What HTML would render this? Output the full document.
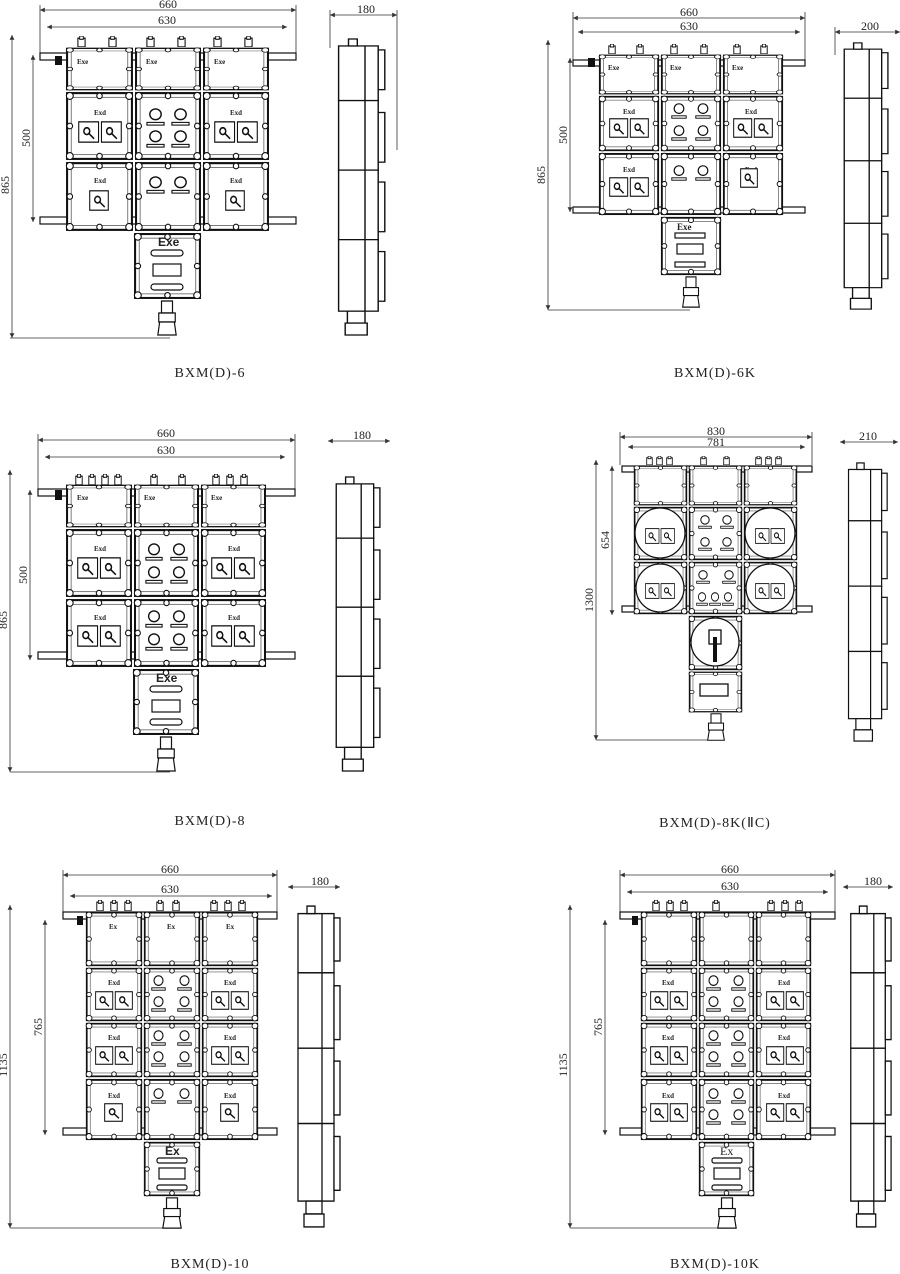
<!DOCTYPE html>
<html><head><meta charset="utf-8"><style>
html,body{margin:0;padding:0;background:#fff}
svg{display:block}
text{font-family:"Liberation Serif",serif;fill:#222}
.d{stroke:#333;stroke-width:0.8;fill:none}
.lb{font-size:14px;letter-spacing:1px}
.dm{font-size:12px;font-family:"Liberation Sans",sans-serif}
.sm{font-size:7px;font-family:"Liberation Sans",sans-serif;font-weight:bold}
</style></head><body>
<svg width="900" height="1274" viewBox="0 0 900 1274" xmlns="http://www.w3.org/2000/svg" xmlns:xlink="http://www.w3.org/1999/xlink">
<defs>
<symbol id="cell" viewBox="0 0 100 100" preserveAspectRatio="none">
<rect x="3" y="3" width="94" height="94" fill="#fff" stroke="#111" stroke-width="3"/>
<rect x="9" y="9" width="82" height="82" fill="none" stroke="#444" stroke-width="1"/>
<g fill="#fff" stroke="#111" stroke-width="1.6">
<circle cx="7" cy="7" r="5"/><circle cx="93" cy="7" r="5"/><circle cx="7" cy="93" r="5"/><circle cx="93" cy="93" r="5"/>
<circle cx="50" cy="7" r="4"/><circle cx="50" cy="93" r="4"/><circle cx="7" cy="50" r="4"/><circle cx="93" cy="50" r="4"/>
</g></symbol>
<symbol id="sw2" viewBox="0 0 60 26" preserveAspectRatio="none">
<g fill="#fff" stroke="#111" stroke-width="1.5"><rect x="1" y="1" width="27" height="24"/><rect x="32" y="1" width="27" height="24"/></g>
<g stroke="#111" stroke-width="2" fill="none"><circle cx="12" cy="12" r="4"/><line x1="14" y1="14" x2="22" y2="21"/><circle cx="43" cy="12" r="4"/><line x1="45" y1="14" x2="53" y2="21"/></g>
</symbol>
<symbol id="sw1" viewBox="0 0 28 26" preserveAspectRatio="none">
<rect x="1" y="1" width="26" height="24" fill="#fff" stroke="#111" stroke-width="1.5"/>
<g stroke="#111" stroke-width="2" fill="none"><circle cx="12" cy="12" r="4"/><line x1="14" y1="14" x2="22" y2="21"/></g>
</symbol>
<symbol id="lt" viewBox="0 0 20 20" preserveAspectRatio="none">
<circle cx="10" cy="7" r="6" fill="#fff" stroke="#111" stroke-width="1.5"/>
<rect x="1" y="16" width="18" height="3" fill="none" stroke="#111" stroke-width="1.2"/>
</symbol>
<symbol id="gl" viewBox="0 0 10 10" preserveAspectRatio="none">
<rect x="1" y="2" width="8" height="8" fill="#fff" stroke="#111" stroke-width="1.2"/><rect x="3" y="0" width="4" height="3" fill="#fff" stroke="#111"/>
</symbol>
<symbol id="side" viewBox="0 0 50 300" preserveAspectRatio="none">
<g fill="#fff" stroke="#111" stroke-width="1.3">
<rect x="6" y="8" width="36" height="55"/><rect x="6" y="63" width="36" height="70"/><rect x="6" y="133" width="36" height="70"/><rect x="6" y="203" width="36" height="72"/>
<rect x="42" y="12" width="6" height="40"/><rect x="42" y="75" width="6" height="50"/><rect x="42" y="145" width="6" height="50"/><rect x="42" y="215" width="6" height="50"/>
<rect x="15" y="1" width="8" height="7"/>
<rect x="14" y="275" width="16" height="12"/><rect x="12" y="287" width="20" height="12"/>
<line x1="30" y1="8" x2="30" y2="275"/>
</g></symbol>
<symbol id="foot" viewBox="0 0 24 36" preserveAspectRatio="none">
<g fill="#fff" stroke="#111" stroke-width="1.3"><rect x="6" y="1" width="12" height="12"/><rect x="3" y="13" width="18" height="9"/><path d="M4 22 L20 22 L22 35 L2 35 Z"/></g>
</symbol>
<marker id="ar" viewBox="0 0 6 6" refX="6" refY="3" markerWidth="6" markerHeight="6" orient="auto-start-reverse"><path d="M0 0L6 3L0 6z" fill="#333"/></marker>
</defs>

<g class="d" marker-start="url(#ar)" marker-end="url(#ar)">
<!-- P1 -->
<line x1="40" y1="10" x2="296" y2="10"/><line x1="47" y1="27" x2="287" y2="27"/>
<line x1="33" y1="55" x2="33" y2="222"/><line x1="12" y1="35" x2="12" y2="338"/>
<line x1="330" y1="15" x2="397" y2="15"/>
<!-- P2 -->
<line x1="573" y1="18" x2="805" y2="18"/><line x1="578" y1="32" x2="800" y2="32"/>
<line x1="570" y1="58" x2="570" y2="212"/><line x1="548" y1="40" x2="548" y2="310"/>
<line x1="835" y1="32" x2="900" y2="32"/>
<!-- P3 -->
<line x1="38" y1="440" x2="295" y2="440"/><line x1="45" y1="457" x2="285" y2="457"/>
<line x1="30" y1="490" x2="30" y2="660"/><line x1="10" y1="470" x2="10" y2="772"/>
<line x1="328" y1="441" x2="390" y2="441"/>
<!-- P4 -->
<line x1="620" y1="437" x2="812" y2="437"/><line x1="628" y1="447" x2="805" y2="447"/>
<line x1="612" y1="466" x2="612" y2="615"/><line x1="596" y1="460" x2="596" y2="740"/>
<line x1="840" y1="442" x2="898" y2="442"/>
<!-- P5 -->
<line x1="63" y1="875" x2="277" y2="875"/><line x1="70" y1="896" x2="272" y2="896"/>
<line x1="45" y1="920" x2="45" y2="1135"/><line x1="10" y1="905" x2="10" y2="1228"/>
<line x1="288" y1="887" x2="340" y2="887"/>
<!-- P6 -->
<line x1="620" y1="875" x2="835" y2="875"/><line x1="627" y1="892" x2="828" y2="892"/>
<line x1="605" y1="920" x2="605" y2="1135"/><line x1="570" y1="905" x2="570" y2="1228"/>
<line x1="843" y1="887" x2="893" y2="887"/>
</g>
<g class="d">
<line x1="40" y1="5" x2="40" y2="55"/><line x1="296" y1="5" x2="296" y2="55"/><line x1="330" y1="10" x2="330" y2="48"/><line x1="397" y1="10" x2="397" y2="150"/>
<line x1="573" y1="12" x2="573" y2="60"/><line x1="805" y1="12" x2="805" y2="60"/><line x1="835" y1="27" x2="835" y2="55"/><line x1="548" y1="310" x2="690" y2="310"/>
<line x1="38" y1="434" x2="38" y2="490"/><line x1="295" y1="434" x2="295" y2="490"/><line x1="10" y1="772" x2="170" y2="772"/><line x1="10" y1="338" x2="170" y2="338"/>
<line x1="596" y1="740" x2="720" y2="740"/><line x1="620" y1="432" x2="620" y2="465"/><line x1="812" y1="432" x2="812" y2="465"/>
<line x1="10" y1="1228" x2="175" y2="1228"/><line x1="570" y1="1228" x2="730" y2="1228"/><line x1="63" y1="870" x2="63" y2="918"/><line x1="277" y1="870" x2="277" y2="918"/><line x1="620" y1="870" x2="620" y2="918"/><line x1="835" y1="870" x2="835" y2="918"/>
</g>

<g class="dm">
<text x="168" y="8" text-anchor="middle">660</text><text x="167" y="24" text-anchor="middle">630</text>
<text x="30" y="138" transform="rotate(-90 30 138)" text-anchor="middle">500</text>
<text x="9" y="185" transform="rotate(-90 9 185)" text-anchor="middle">865</text>
<text x="366" y="13" text-anchor="middle">180</text>
<text x="689" y="16" text-anchor="middle">660</text><text x="689" y="30" text-anchor="middle">630</text>
<text x="567" y="135" transform="rotate(-90 567 135)" text-anchor="middle">500</text>
<text x="545" y="175" transform="rotate(-90 545 175)" text-anchor="middle">865</text>
<text x="870" y="30" text-anchor="middle">200</text>
<text x="166" y="437" text-anchor="middle">660</text><text x="166" y="454" text-anchor="middle">630</text>
<text x="27" y="575" transform="rotate(-90 27 575)" text-anchor="middle">500</text>
<text x="7" y="620" transform="rotate(-90 7 620)" text-anchor="middle">865</text>
<text x="362" y="439" text-anchor="middle">180</text>
<text x="716" y="435" text-anchor="middle">830</text><text x="716" y="446" text-anchor="middle">781</text>
<text x="609" y="540" transform="rotate(-90 609 540)" text-anchor="middle">654</text>
<text x="593" y="600" transform="rotate(-90 593 600)" text-anchor="middle">1300</text>
<text x="868" y="440" text-anchor="middle">210</text>
<text x="170" y="873" text-anchor="middle">660</text><text x="170" y="893" text-anchor="middle">630</text>
<text x="42" y="1027" transform="rotate(-90 42 1027)" text-anchor="middle">765</text>
<text x="7" y="1065" transform="rotate(-90 7 1065)" text-anchor="middle">1135</text>
<text x="320" y="885" text-anchor="middle">180</text>
<text x="730" y="873" text-anchor="middle">660</text><text x="730" y="890" text-anchor="middle">630</text>
<text x="602" y="1027" transform="rotate(-90 602 1027)" text-anchor="middle">765</text>
<text x="567" y="1065" transform="rotate(-90 567 1065)" text-anchor="middle">1135</text>
<text x="873" y="885" text-anchor="middle">180</text>
</g>

<!-- ===== P1 ===== -->
<g stroke="#111" fill="#fff" stroke-width="1.2">
<rect x="40" y="53" width="256" height="7"/><rect x="40" y="217" width="256" height="7"/>
</g>
<use href="#gl" x="77" y="36" width="9" height="11"/><use href="#gl" x="108" y="36" width="9" height="11"/><use href="#gl" x="146" y="36" width="9" height="11"/><use href="#gl" x="177" y="36" width="9" height="11"/><use href="#gl" x="213" y="36" width="9" height="11"/><use href="#gl" x="244" y="36" width="9" height="11"/>
<use href="#cell" x="65" y="47" width="69" height="44"/><use href="#cell" x="134" y="47" width="68" height="44"/><use href="#cell" x="202" y="47" width="68" height="44"/>
<use href="#cell" x="65" y="91" width="69" height="70"/><use href="#cell" x="134" y="91" width="68" height="70"/><use href="#cell" x="202" y="91" width="68" height="70"/>
<use href="#cell" x="65" y="161" width="69" height="71"/><use href="#cell" x="134" y="161" width="68" height="71"/><use href="#cell" x="202" y="161" width="68" height="71"/>
<use href="#cell" x="133" y="232" width="69" height="68"/>
<rect x="55" y="56" width="7" height="9" fill="#111"/>
<g class="sm"><text x="77" y="64">Exe</text><text x="146" y="64">Exe</text><text x="214" y="64">Exe</text>
<text x="94" y="115">Exd</text><text x="230" y="115">Exd</text><text x="94" y="183">Exd</text><text x="230" y="183">Exd</text></g>
<use href="#sw2" x="78" y="121" width="44" height="22"/><use href="#sw2" x="214" y="121" width="44" height="22"/>
<use href="#sw1" x="89" y="190" width="20" height="21"/><use href="#sw1" x="225" y="190" width="20" height="21"/>
<use href="#lt" x="146" y="108" width="19" height="18"/><use href="#lt" x="171" y="108" width="19" height="18"/><use href="#lt" x="146" y="130" width="19" height="18"/><use href="#lt" x="171" y="130" width="19" height="18"/>
<use href="#lt" x="146" y="176" width="19" height="18"/><use href="#lt" x="171" y="176" width="19" height="18"/>
<text x="158" y="246" style="font-size:12px;font-family:'Liberation Sans',sans-serif;font-weight:bold">Exe</text>
<g fill="#fff" stroke="#111" stroke-width="1.2"><rect x="151" y="250" width="32" height="6" rx="3"/><rect x="153" y="264" width="28" height="12"/><rect x="151" y="284" width="32" height="6" rx="3"/></g>
<use href="#foot" x="156" y="300" width="22" height="36"/>
<use href="#side" x="332" y="38" width="55" height="298"/>
<text x="210" y="377" class="lb" text-anchor="middle">BXM(D)-6</text>

<!-- ===== P2 ===== -->
<g stroke="#111" fill="#fff" stroke-width="1.2"><rect x="573" y="60" width="232" height="6"/><rect x="573" y="207" width="232" height="6"/></g>
<use href="#gl" x="608" y="44" width="8" height="10"/><use href="#gl" x="636" y="44" width="8" height="10"/><use href="#gl" x="670" y="44" width="8" height="10"/><use href="#gl" x="700" y="44" width="8" height="10"/><use href="#gl" x="733" y="44" width="8" height="10"/><use href="#gl" x="760" y="44" width="8" height="10"/>
<use href="#cell" x="598" y="54" width="62" height="41"/><use href="#cell" x="660" y="54" width="62" height="41"/><use href="#cell" x="722" y="54" width="62" height="41"/>
<use href="#cell" x="598" y="95" width="62" height="57"/><use href="#cell" x="660" y="95" width="62" height="57"/><use href="#cell" x="722" y="95" width="62" height="57"/>
<use href="#cell" x="598" y="152" width="62" height="64"/><use href="#cell" x="660" y="152" width="62" height="64"/><use href="#cell" x="722" y="152" width="62" height="64"/>
<use href="#cell" x="660" y="216" width="62" height="60"/>
<rect x="588" y="58" width="7" height="9" fill="#111"/>
<g class="sm"><text x="608" y="70">Exe</text><text x="670" y="70">Exe</text><text x="732" y="70">Exe</text><text x="623" y="114">Exd</text><text x="745" y="114">Exd</text><text x="623" y="172">Exd</text><text x="745" y="172">Exd</text><text x="677" y="230" style="font-size:9px">Exe</text></g>
<use href="#sw2" x="609" y="118" width="40" height="20"/><use href="#sw2" x="733" y="118" width="40" height="20"/><use href="#sw2" x="609" y="177" width="40" height="20"/><use href="#sw1" x="740" y="168" width="18" height="20"/>
<use href="#lt" x="671" y="103" width="16" height="16"/><use href="#lt" x="695" y="103" width="16" height="16"/><use href="#lt" x="671" y="125" width="16" height="16"/><use href="#lt" x="695" y="125" width="16" height="16"/>
<use href="#lt" x="671" y="165" width="16" height="16"/><use href="#lt" x="695" y="165" width="16" height="16"/>
<g fill="#fff" stroke="#111" stroke-width="1.2"><rect x="675" y="233" width="30" height="5"/><rect x="677" y="244" width="26" height="10"/><rect x="675" y="262" width="30" height="5"/></g>
<use href="#foot" x="681" y="276" width="20" height="32"/>
<use href="#side" x="838" y="42" width="52" height="268"/>
<text x="715" y="377" class="lb" text-anchor="middle">BXM(D)-6K</text>

<!-- ===== P3 ===== -->
<g stroke="#111" fill="#fff" stroke-width="1.2"><rect x="38" y="489" width="257" height="7"/><rect x="38" y="652" width="257" height="7"/></g>
<use href="#gl" x="75" y="474" width="8" height="11"/><use href="#gl" x="88" y="474" width="8" height="11"/><use href="#gl" x="101" y="474" width="8" height="11"/><use href="#gl" x="114" y="474" width="8" height="11"/><use href="#gl" x="150" y="474" width="8" height="11"/><use href="#gl" x="178" y="474" width="8" height="11"/><use href="#gl" x="212" y="474" width="8" height="11"/><use href="#gl" x="226" y="474" width="8" height="11"/><use href="#gl" x="240" y="474" width="8" height="11"/>
<use href="#cell" x="65" y="484" width="68" height="44"/><use href="#cell" x="133" y="484" width="67" height="44"/><use href="#cell" x="200" y="484" width="67" height="44"/>
<use href="#cell" x="65" y="528" width="68" height="70"/><use href="#cell" x="133" y="528" width="67" height="70"/><use href="#cell" x="200" y="528" width="67" height="70"/>
<use href="#cell" x="65" y="598" width="68" height="70"/><use href="#cell" x="133" y="598" width="67" height="70"/><use href="#cell" x="200" y="598" width="67" height="70"/>
<use href="#cell" x="132" y="668" width="68" height="68"/>
<rect x="55" y="490" width="7" height="10" fill="#111"/>
<g class="sm"><text x="77" y="500">Exe</text><text x="144" y="500">Exe</text><text x="211" y="500">Exe</text><text x="94" y="551">Exd</text><text x="228" y="551">Exd</text><text x="94" y="620">Exd</text><text x="228" y="620">Exd</text></g>
<use href="#sw2" x="77" y="557" width="44" height="22"/><use href="#sw2" x="211" y="557" width="44" height="22"/><use href="#sw2" x="77" y="625" width="44" height="22"/><use href="#sw2" x="211" y="625" width="44" height="22"/>
<use href="#lt" x="145" y="543" width="18" height="18"/><use href="#lt" x="170" y="543" width="18" height="18"/><use href="#lt" x="145" y="566" width="18" height="18"/><use href="#lt" x="170" y="566" width="18" height="18"/>
<use href="#lt" x="145" y="610" width="18" height="18"/><use href="#lt" x="170" y="610" width="18" height="18"/><use href="#lt" x="145" y="633" width="18" height="18"/><use href="#lt" x="170" y="633" width="18" height="18"/>
<text x="156" y="682" style="font-size:12px;font-family:'Liberation Sans',sans-serif;font-weight:bold">Exe</text>
<g fill="#fff" stroke="#111" stroke-width="1.2"><rect x="150" y="686" width="32" height="6" rx="3"/><rect x="152" y="700" width="28" height="12"/><rect x="150" y="719" width="32" height="6" rx="3"/></g>
<use href="#foot" x="155" y="736" width="22" height="36"/>
<use href="#side" x="330" y="476" width="52" height="296"/>
<text x="210" y="825" class="lb" text-anchor="middle">BXM(D)-8</text>

<!-- ===== P4 ===== -->
<g stroke="#111" fill="#fff" stroke-width="1.2"><rect x="622" y="466" width="190" height="6"/><rect x="622" y="606" width="190" height="6"/></g>
<use href="#gl" x="646" y="456" width="7" height="9"/><use href="#gl" x="656" y="456" width="7" height="9"/><use href="#gl" x="666" y="456" width="7" height="9"/><use href="#gl" x="700" y="456" width="7" height="9"/><use href="#gl" x="723" y="456" width="7" height="9"/><use href="#gl" x="755" y="456" width="7" height="9"/><use href="#gl" x="765" y="456" width="7" height="9"/><use href="#gl" x="775" y="456" width="7" height="9"/>
<use href="#cell" x="633" y="465" width="55" height="41"/><use href="#cell" x="688" y="465" width="55" height="41"/><use href="#cell" x="743" y="465" width="55" height="41"/>
<use href="#cell" x="633" y="506" width="55" height="55"/><use href="#cell" x="688" y="506" width="55" height="55"/><use href="#cell" x="743" y="506" width="55" height="55"/>
<use href="#cell" x="633" y="561" width="55" height="54"/><use href="#cell" x="688" y="561" width="55" height="54"/><use href="#cell" x="743" y="561" width="55" height="54"/>
<use href="#cell" x="688" y="615" width="55" height="56"/><use href="#cell" x="688" y="671" width="55" height="42"/>
<g fill="#fff" stroke="#111" stroke-width="1.3">
<circle cx="660" cy="533" r="25"/><circle cx="770" cy="533" r="25"/><circle cx="660" cy="588" r="24"/><circle cx="770" cy="588" r="24"/><circle cx="715" cy="642" r="24"/>
<rect x="700" y="684" width="28" height="12"/><rect x="709" y="630" width="12" height="14"/>
</g>
<path d="M715 637 L715 662" stroke="#111" stroke-width="4"/>
<use href="#sw2" x="645" y="528" width="30" height="16"/><use href="#sw2" x="755" y="528" width="30" height="16"/><use href="#sw2" x="645" y="583" width="30" height="16"/><use href="#sw2" x="755" y="583" width="30" height="16"/>
<use href="#lt" x="698" y="515" width="14" height="14"/><use href="#lt" x="720" y="515" width="14" height="14"/><use href="#lt" x="698" y="537" width="14" height="14"/><use href="#lt" x="720" y="537" width="14" height="14"/>
<use href="#lt" x="696" y="570" width="14" height="14"/><use href="#lt" x="722" y="570" width="14" height="14"/><use href="#lt" x="696" y="592" width="12" height="14"/><use href="#lt" x="709" y="592" width="12" height="14"/><use href="#lt" x="722" y="592" width="12" height="14"/>
<use href="#foot" x="706" y="713" width="20" height="28"/>
<use href="#side" x="843" y="462" width="46" height="280"/>
<text x="715" y="827" class="lb" text-anchor="middle">BXM(D)-8K(ⅡC)</text>

<!-- ===== P5 ===== -->
<g stroke="#111" fill="#fff" stroke-width="1.2"><rect x="63" y="912" width="214" height="7"/><rect x="63" y="1128" width="214" height="7"/></g>
<use href="#gl" x="96" y="900" width="8" height="11"/><use href="#gl" x="110" y="900" width="8" height="11"/><use href="#gl" x="124" y="900" width="8" height="11"/><use href="#gl" x="156" y="900" width="8" height="11"/><use href="#gl" x="172" y="900" width="8" height="11"/><use href="#gl" x="210" y="900" width="8" height="11"/><use href="#gl" x="224" y="900" width="8" height="11"/><use href="#gl" x="238" y="900" width="8" height="11"/>
<use href="#cell" x="85" y="911" width="58" height="56"/><use href="#cell" x="143" y="911" width="58" height="56"/><use href="#cell" x="201" y="911" width="58" height="56"/>
<use href="#cell" x="85" y="967" width="58" height="55"/><use href="#cell" x="143" y="967" width="58" height="55"/><use href="#cell" x="201" y="967" width="58" height="55"/>
<use href="#cell" x="85" y="1022" width="58" height="56"/><use href="#cell" x="143" y="1022" width="58" height="56"/><use href="#cell" x="201" y="1022" width="58" height="56"/>
<use href="#cell" x="85" y="1078" width="58" height="63"/><use href="#cell" x="143" y="1078" width="58" height="63"/><use href="#cell" x="201" y="1078" width="58" height="63"/>
<use href="#cell" x="143" y="1141" width="58" height="56"/>
<rect x="77" y="916" width="6" height="9" fill="#111"/>
<g class="sm"><text x="109" y="929">Ex</text><text x="167" y="929">Ex</text><text x="226" y="929">Ex</text><text x="108" y="985">Exd</text><text x="224" y="985">Exd</text><text x="108" y="1040">Exd</text><text x="224" y="1040">Exd</text><text x="108" y="1098">Exd</text><text x="224" y="1098">Exd</text></g>
<use href="#sw2" x="95" y="991" width="38" height="19"/><use href="#sw2" x="211" y="991" width="38" height="19"/><use href="#sw2" x="95" y="1046" width="38" height="19"/><use href="#sw2" x="211" y="1046" width="38" height="19"/>
<use href="#sw1" x="104" y="1103" width="19" height="19"/><use href="#sw1" x="220" y="1103" width="19" height="19"/>
<use href="#lt" x="151" y="975" width="15" height="16"/><use href="#lt" x="177" y="975" width="15" height="16"/><use href="#lt" x="151" y="996" width="15" height="16"/><use href="#lt" x="177" y="996" width="15" height="16"/>
<use href="#lt" x="151" y="1030" width="15" height="16"/><use href="#lt" x="177" y="1030" width="15" height="16"/><use href="#lt" x="151" y="1051" width="15" height="16"/><use href="#lt" x="177" y="1051" width="15" height="16"/>
<use href="#lt" x="151" y="1088" width="15" height="16"/><use href="#lt" x="177" y="1088" width="15" height="16"/>
<text x="165" y="1155" style="font-size:12px;font-family:'Liberation Sans',sans-serif;font-weight:bold">Ex</text>
<g fill="#fff" stroke="#111" stroke-width="1.2"><rect x="157" y="1158" width="30" height="5" rx="2"/><rect x="159" y="1168" width="26" height="11"/><rect x="157" y="1185" width="30" height="5" rx="2"/></g>
<use href="#foot" x="161" y="1197" width="22" height="32"/>
<use href="#side" x="292" y="905" width="50" height="323"/>
<text x="210" y="1268" class="lb" text-anchor="middle">BXM(D)-10</text>

<!-- ===== P6 ===== -->
<g stroke="#111" fill="#fff" stroke-width="1.2"><rect x="620" y="912" width="215" height="7"/><rect x="620" y="1128" width="215" height="7"/></g>
<use href="#gl" x="652" y="900" width="8" height="11"/><use href="#gl" x="666" y="900" width="8" height="11"/><use href="#gl" x="680" y="900" width="8" height="11"/><use href="#gl" x="712" y="900" width="8" height="11"/><use href="#gl" x="767" y="900" width="8" height="11"/><use href="#gl" x="781" y="900" width="8" height="11"/><use href="#gl" x="795" y="900" width="8" height="11"/>
<use href="#cell" x="640" y="911" width="58" height="56"/><use href="#cell" x="698" y="911" width="57" height="56"/><use href="#cell" x="755" y="911" width="57" height="56"/>
<use href="#cell" x="640" y="967" width="58" height="55"/><use href="#cell" x="698" y="967" width="57" height="55"/><use href="#cell" x="755" y="967" width="57" height="55"/>
<use href="#cell" x="640" y="1022" width="58" height="56"/><use href="#cell" x="698" y="1022" width="57" height="56"/><use href="#cell" x="755" y="1022" width="57" height="56"/>
<use href="#cell" x="640" y="1078" width="58" height="63"/><use href="#cell" x="698" y="1078" width="57" height="63"/><use href="#cell" x="755" y="1078" width="57" height="63"/>
<use href="#cell" x="698" y="1141" width="57" height="56"/>
<rect x="632" y="916" width="6" height="9" fill="#111"/>
<g class="sm"><text x="662" y="985">Exd</text><text x="778" y="985">Exd</text><text x="662" y="1040">Exd</text><text x="778" y="1040">Exd</text><text x="662" y="1098">Exd</text><text x="778" y="1098">Exd</text></g>
<use href="#sw2" x="650" y="991" width="38" height="19"/><use href="#sw2" x="766" y="991" width="38" height="19"/><use href="#sw2" x="650" y="1046" width="38" height="19"/><use href="#sw2" x="766" y="1046" width="38" height="19"/><use href="#sw2" x="650" y="1103" width="38" height="19"/><use href="#sw2" x="766" y="1103" width="38" height="19"/>
<use href="#lt" x="706" y="975" width="15" height="16"/><use href="#lt" x="731" y="975" width="15" height="16"/><use href="#lt" x="706" y="996" width="15" height="16"/><use href="#lt" x="731" y="996" width="15" height="16"/>
<use href="#lt" x="706" y="1030" width="15" height="16"/><use href="#lt" x="731" y="1030" width="15" height="16"/><use href="#lt" x="706" y="1051" width="15" height="16"/><use href="#lt" x="731" y="1051" width="15" height="16"/>
<use href="#lt" x="706" y="1088" width="15" height="16"/><use href="#lt" x="731" y="1088" width="15" height="16"/><use href="#lt" x="706" y="1109" width="15" height="16"/><use href="#lt" x="731" y="1109" width="15" height="16"/>
<text x="720" y="1155" style="font-size:12px;font-family:'Liberation Serif',serif">Ex</text>
<g fill="#fff" stroke="#111" stroke-width="1.2"><rect x="712" y="1158" width="30" height="5" rx="2"/><rect x="714" y="1168" width="26" height="11"/><rect x="712" y="1185" width="30" height="5" rx="2"/></g>
<use href="#foot" x="716" y="1197" width="22" height="32"/>
<use href="#side" x="845" y="905" width="48" height="323"/>
<text x="715" y="1268" class="lb" text-anchor="middle">BXM(D)-10K</text>
</svg>
</body></html>
